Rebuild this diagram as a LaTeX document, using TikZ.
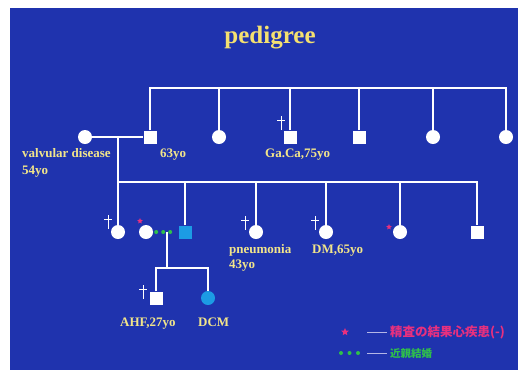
\documentclass[tikz,border=0pt]{standalone}
\usepackage{fontspec}
\setmainfont{Liberation Serif}
\newfontfamily\jpfont{Noto Sans CJK JP}
\usetikzlibrary{shapes.geometric}
\definecolor{slideblue}{HTML}{1F33AE}
\definecolor{labelyellow}{HTML}{F2E58A}
\definecolor{titleyellow}{HTML}{F4E070}
\definecolor{affblue}{HTML}{1C9BE4}
\definecolor{starpink}{HTML}{E8307E}
\definecolor{kingreen}{HTML}{2FC04A}
\definecolor{keydash}{HTML}{B4B6E6}

\begin{document}
\begin{tikzpicture}[x=1pt,y=-1pt,font=\bfseries\fontsize{13}{15}\selectfont,
  male/.style={rectangle,fill=white,minimum size=13pt,inner sep=0pt},
  female/.style={circle,fill=white,minimum size=14pt,inner sep=0pt},
  line/.style={white,line width=2pt},
  lbl/.style={text=labelyellow,anchor=base west,inner sep=0pt},
  pinkstar/.style={star,star points=5,star point ratio=2.2,fill=starpink,inner sep=0pt,minimum size=#1},
  kindots/.style={kingreen,line width=4pt,line cap=round,dash pattern=on 0pt off #1},
  keytxt/.style={anchor=west,inner sep=0pt,font=\jpfont\bfseries\fontsize{#1}{14}\selectfont}]
\useasboundingbox (0,0) rectangle (518,373);
\fill[white] (0,0) rectangle (518,373);
\fill[slideblue] (10,8) rectangle (518,370);
\node[text=titleyellow,font=\bfseries\fontsize{25}{30}\selectfont] (title) at (270,38) {pedigree};
\coordinate (topbar) at (0,88);
\coordinate (sibbar) at (0,182);
\coordinate (kidbar) at (0,268);
\node[female] (gm) at (85,137) {};
\node[male] (gf) at (150,137) {};
\node[female] (a2) at (219,137) {};
\node[male] (a3) at (290,137) {};
\node[male] (a4) at (359,137) {};
\node[female] (a5) at (433,137) {};
\node[female] (a6) at (506,137) {};
\coordinate (mate1) at (118,137);
\draw[line] (gf) -- (gf |- topbar) -- (a6 |- topbar) -- (a6);
\foreach \s in {a2,a3,a4,a5} \draw[line] (\s) -- (\s |- topbar);
\draw[line] (gm) -- (gf);
\node[female] (b1) at (118,232) {};
\node[female] (sp) at (146,232) {};
\node[male,fill=affblue] (b2) at (185,232) {};
\node[female] (b3) at (256,232) {};
\node[female] (b4) at (326,232) {};
\node[female] (b5) at (400,232) {};
\node[male] (b6) at (477,232) {};
\draw[line] (mate1) -- (b1);
\draw[line] (b1 |- sibbar) -- (b6 |- sibbar) -- (b6);
\foreach \s in {b2,b3,b4,b5} \draw[line] (\s) -- (\s |- sibbar);
\coordinate (mate2) at (167,232);
\node[male] (c1) at (156,298) {};
\node[female,fill=affblue] (c2) at (208,298) {};
\draw[line] (mate2) -- (mate2 |- kidbar);
\draw[line] (c1) -- (c1 |- kidbar) -- (c2 |- kidbar) -- (c2);
\draw[kindots=7pt,shorten <=3pt,shorten >=2pt] (sp) -- (b2);
\foreach \cx/\cy in {281/123,108/222,245/223,315/223,143/292}{%
  \draw[white,line width=0.7pt] (\cx,\cy-7) -- (\cx,\cy+7) (\cx-4,\cy-3) -- (\cx+4,\cy-3);
}
\node[pinkstar=6pt] (sp star) at (140,221) {};
\node[pinkstar=6pt] (b5 star) at (389,227) {};
\node[lbl] (gm dx) at (22,157) {valvular disease};
\node[lbl] (gm age) at (22,174) {54yo};
\node[lbl] (gf age) at (160,157) {63yo};
\node[lbl] (a3 dx) at (265,157) {Ga.Ca,75yo};
\node[lbl] (b3 dx) at (229,253) {pneumonia};
\node[lbl] (b3 age) at (229,268) {43yo};
\node[lbl] (b4 dx) at (312,253) {DM,65yo};
\node[lbl] (c1 dx) at (120,326) {AHF,27yo};
\node[lbl] (c2 dx) at (198,326) {DCM};
\node[pinkstar=8pt] (key star) at (345,332) {};
\coordinate (key dot a) at (341,353);
\coordinate (key dot b) at (358,353);
\draw[kindots=8.5pt] (key dot a) -- (key dot b);
\node[keytxt=12.5,text=starpink] (key star txt) at (390,332) {精査の結果心疾患(-)};
\node[keytxt=10.5,text=kingreen] (key kin txt) at (390,353) {近親結婚};
\draw[keydash,line width=0.9pt] ([xshift=-23pt]key star txt.west) -- ([xshift=-3pt]key star txt.west);
\draw[keydash,line width=0.9pt] ([xshift=-23pt]key kin txt.west) -- ([xshift=-3pt]key kin txt.west);
\end{tikzpicture}
\end{document}
